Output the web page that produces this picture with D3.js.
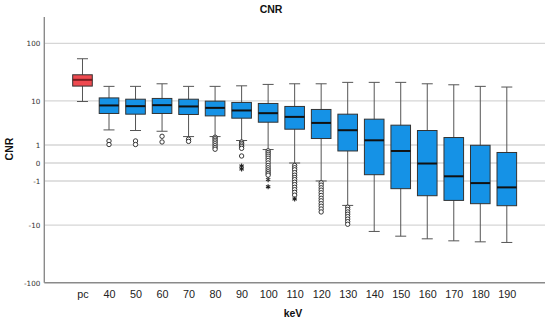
<!DOCTYPE html>
<html>
<head>
<meta charset="utf-8">
<script src="https://cdn.jsdelivr.net/npm/d3@7"></script>
<style>
  html, body { margin: 0; padding: 0; background: #fff; }
  svg { display: block; }
</style>
</head>
<body>
<svg id="chart" width="550" height="321"></svg>
<script>
// ---- data ----
const categories = ["pc","40","50","60","70","80","90","100","110","120","130","140","150","160","170","180","190"];
const whiskerLow  = [9.7, 2.58, 2.5, 2.4, 1.77, 1.77, 1.38, 0.68, 0, -1, -4.13, -13.0, -15.8, -17.6, -19.1, -19.9, -20.4];
const q1          = [18.4, 5.75, 5.57, 5.75, 5.49, 5.15, 4.63, 3.82, 2.68, 1.57, 0.59, -0.57, -1.69, -2.53, -3.23, -3.80, -4.19];
const medians     = [23.7, 8.2, 7.95, 8.3, 7.85, 7.38, 6.58, 5.83, 4.92, 3.69, 2.54, 1.40, 0.59, -0.02, -0.67, -1.17, -1.56];
const q3          = [29, 11.3, 10.7, 11.05, 10.7, 9.86, 9.33, 8.93, 7.85, 6.88, 5.57, 4.42, 3.30, 2.5, 1.67, 0.98, 0.50];
const whiskerHigh = [54.7, 18.2, 18.2, 20.2, 18.2, 18.2, 18.6, 19.7, 20.2, 20.2, 21.4, 21.4, 21.4, 20.2, 19.4, 18.2, 17.7];
const outliers = [
  [], [1.34, 1.04], [1.34, 1.04], [1.8, 1.25], [1.5, 1.3],
  [1.7, 1.55, 1.4, 1.25, 1.1, 0.95, 0.82, 0.7],
  [1.25, 1.12, 1.0, 0.88, 0.76, 0.31],
  [0.6, 0.5, 0.4, 0.3, 0.2, 0.1, 0, -0.1, -0.2, -0.3, -0.4, -0.5, -0.6],
  [-0.1, -0.2, -0.3, -0.45, -0.6, -0.75, -0.9, -1.1, -1.3, -1.55, -1.8, -2.1, -2.45],
  [-1.15, -1.35, -1.6, -1.85, -2.15, -2.5, -2.9, -3.3, -3.8, -4.3, -4.9, -5.6],
  [-4.5, -5.0, -5.6, -6.2, -6.9, -7.7, -8.6, -9.6],
  [], [], [], [], [], []
];
const extremes = [
  [], [], [], [], [], [], [-0.12, -0.26], [-0.9, -1.5], [-3.0], [], [], [], [], [], [], [], []
];
const yTicks = [100, 10, 1, 0, -1, -10, -100];
const title = "CNR";
const xTitle = "keV";
const yTitle = "CNR";

// ---- layout ----
const svg = d3.select("#chart");
const plotLeft = 44.3, plotRight = 545, plotBottom = 282.7, plotTop = 43.3, axisTop = 17;
const font = "'Liberation Sans', Arial, sans-serif";

const x = d3.scalePoint().domain(categories).range([plotLeft, plotRight]).padding(1.44);
const y = d3.scaleSymlog().constant(1).domain([-100, 100]).range([plotBottom, plotTop]);
const boxW = 19.6, capW = 11;

// gridlines
svg.append("g").selectAll("line").data(yTicks.filter(t => t !== -100)).join("line")
  .attr("x1", plotLeft).attr("x2", plotRight)
  .attr("y1", d => y(d)).attr("y2", d => y(d))
  .attr("stroke", "#d6d6d6").attr("stroke-width", 1.3);

// y axis labels
const yAxis = svg.append("g").attr("transform", `translate(${plotLeft},0)`)
  .call(d3.axisLeft(y).tickValues(yTicks).tickSize(0).tickPadding(4).tickFormat(d => String(d)));
yAxis.select(".domain").remove();
yAxis.selectAll("text").attr("font-family", "'DejaVu Sans', sans-serif").attr("font-size", 7.2).attr("fill", "#333");

// x axis labels
const xAxis = svg.append("g").attr("transform", `translate(0,${plotBottom})`)
  .call(d3.axisBottom(x).tickSize(0).tickPadding(7.3));
xAxis.select(".domain").remove();
xAxis.selectAll("text").attr("font-family", font).attr("font-size", 10.8).attr("fill", "#222");

// axis lines
svg.append("line").attr("x1", plotLeft).attr("x2", plotLeft).attr("y1", axisTop).attr("y2", plotBottom)
  .attr("stroke", "#8a8a8a").attr("stroke-width", 1.4);
svg.append("line").attr("x1", plotLeft).attr("x2", plotRight).attr("y1", plotBottom).attr("y2", plotBottom)
  .attr("stroke", "#8a8a8a").attr("stroke-width", 1.4);

// boxes
const data = categories.map((c, i) => ({
  c, lo: whiskerLow[i], q1: q1[i], med: medians[i], q3: q3[i], hi: whiskerHigh[i],
  out: outliers[i], ext: extremes[i]
}));

const g = svg.append("g");
const box = g.selectAll("g.box").data(data).join("g").attr("class", "box");

box.append("line").attr("x1", d => x(d.c)).attr("x2", d => x(d.c))
  .attr("y1", d => y(d.hi)).attr("y2", d => y(d.lo))
  .attr("stroke", "#555").attr("stroke-width", 1);
box.append("line").attr("x1", d => x(d.c) - capW / 2).attr("x2", d => x(d.c) + capW / 2)
  .attr("y1", d => y(d.hi)).attr("y2", d => y(d.hi)).attr("stroke", "#555").attr("stroke-width", 1);
box.append("line").attr("x1", d => x(d.c) - capW / 2).attr("x2", d => x(d.c) + capW / 2)
  .attr("y1", d => y(d.lo)).attr("y2", d => y(d.lo)).attr("stroke", "#555").attr("stroke-width", 1);
box.append("rect")
  .attr("x", d => x(d.c) - boxW / 2).attr("width", boxW)
  .attr("y", d => y(d.q3)).attr("height", d => y(d.q1) - y(d.q3))
  .attr("fill", d => d.c === "pc" ? "#ef4a50" : "#1592e6")
  .attr("stroke", "#333").attr("stroke-width", 1);
box.append("line").attr("x1", d => x(d.c) - boxW / 2).attr("x2", d => x(d.c) + boxW / 2)
  .attr("y1", d => y(d.med)).attr("y2", d => y(d.med))
  .attr("stroke", d => d.c === "pc" ? "#7a1d20" : "#111").attr("stroke-width", 2);

// outliers
box.each(function (d) {
  const sel = d3.select(this);
  sel.selectAll("circle").data(d.out).join("circle")
    .attr("cx", x(d.c)).attr("cy", v => y(v)).attr("r", 2.2)
    .attr("fill", "#fff").attr("stroke", "#222").attr("stroke-width", 0.9);
  sel.selectAll("path.ext").data(d.ext).join("path").attr("class", "ext")
    .attr("transform", v => `translate(${x(d.c)},${y(v)})`)
    .attr("d", () => {
      const r = 2.5, p = [];
      for (let k = 0; k < 3; k++) {
        const a = Math.PI / 2 + k * Math.PI / 3;
        p.push(`M${r * Math.cos(a)},${r * Math.sin(a)}L${-r * Math.cos(a)},${-r * Math.sin(a)}`);
      }
      return p.join("");
    })
    .attr("stroke", "#222").attr("stroke-width", 1.1).attr("fill", "none");
});

// titles
svg.append("text").attr("x", 271).attr("y", 13).attr("text-anchor", "middle")
  .attr("font-family", font).attr("font-weight", "bold").attr("font-size", 10.5).attr("fill", "#111").text(title);
svg.append("text").attr("x", 293).attr("y", 316.5).attr("text-anchor", "middle")
  .attr("font-family", font).attr("font-weight", "bold").attr("font-size", 10.5).attr("fill", "#111").text(xTitle);
svg.append("text").attr("transform", "translate(13,149) rotate(-90)").attr("text-anchor", "middle")
  .attr("font-family", font).attr("font-weight", "bold").attr("font-size", 10.5).attr("fill", "#111").text(yTitle);
</script>
</body>
</html>
